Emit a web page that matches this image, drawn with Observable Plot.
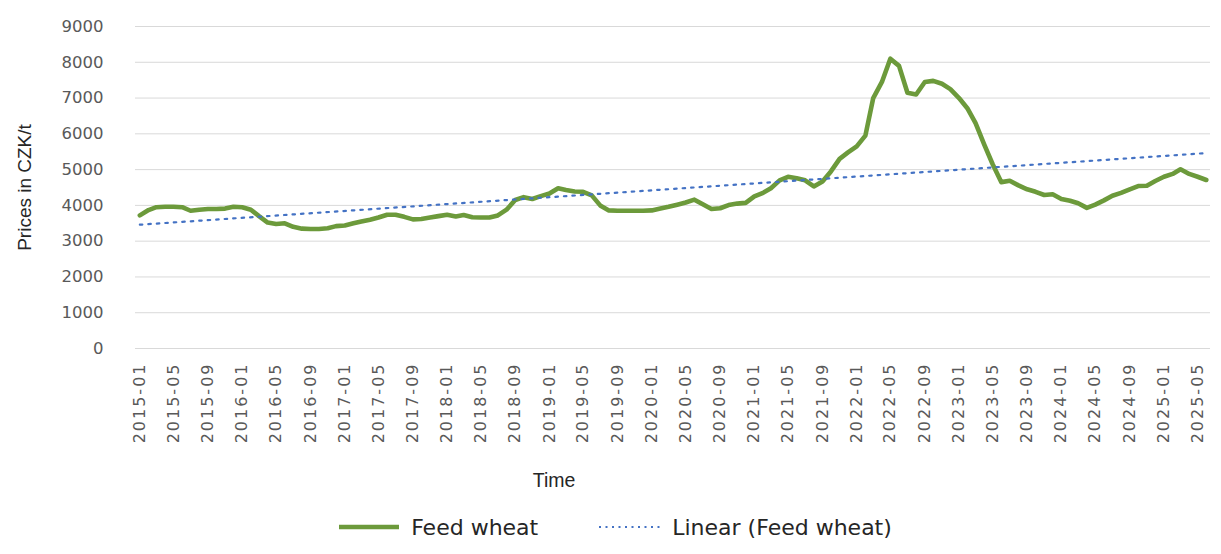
<!DOCTYPE html>
<html>
<head>
<meta charset="utf-8">
<script src="https://cdn.jsdelivr.net/npm/d3@7"></script>
<script src="https://cdn.jsdelivr.net/npm/@observablehq/plot@0.6"></script>
<style>
  html, body { margin: 0; padding: 0; background: #fff; }
  #chart { width: 1221px; }
  .legend {
    display: flex; justify-content: center; align-items: center;
    font-family: "DejaVu Sans", sans-serif; font-size: 22px; color: #262626;
    height: 54px; padding-left: 10px; box-sizing: border-box;
  }
  .legend .item { display: flex; align-items: center; margin: 0 30px; }
  .legend svg { margin-right: 12px; }
</style>
</head>
<body>
<div id="chart"></div>
<script>
// Monthly feed wheat prices (CZK/t), January 2015 – June 2025
const startMonth = new Date(Date.UTC(2015, 0, 1));
const endMonth = new Date(Date.UTC(2025, 6, 1));
const months = d3.utcMonth.range(startMonth, endMonth);

const feedWheat = [
  // 2015
  3720, 3870, 3950, 3960, 3960, 3950, 3850, 3880, 3900, 3900, 3910, 3960,
  // 2016
  3950, 3880, 3700, 3520, 3480, 3500, 3400, 3350, 3340, 3340, 3360, 3420,
  // 2017
  3440, 3500, 3550, 3600, 3660, 3740, 3740, 3680, 3610, 3620, 3660, 3700,
  // 2018
  3740, 3690, 3730, 3670, 3660, 3660, 3720, 3880, 4150, 4230, 4180, 4260,
  // 2019
  4330, 4480, 4430, 4390, 4380, 4280, 4000, 3860, 3850, 3850, 3850, 3850,
  // 2020
  3860, 3910, 3960, 4020, 4080, 4160, 4030, 3900, 3920, 4010, 4050, 4070,
  // 2021
  4250, 4350, 4480, 4700, 4800, 4760, 4700, 4530, 4670, 4950, 5300, 5480,
  // 2022
  5650, 5950, 7000, 7450, 8100, 7900, 7150, 7100, 7450, 7480, 7400, 7250,
  // 2023
  7000, 6700, 6300, 5700, 5150, 4650, 4690, 4560, 4450, 4380, 4290, 4310,
  // 2024
  4180, 4130, 4060, 3930, 4020, 4140, 4270, 4350, 4450, 4540, 4550, 4680,
  // 2025
  4800, 4880, 5010, 4880, 4800, 4710
];

const yTicks = [0, 1000, 2000, 3000, 4000, 5000, 6000, 7000, 8000, 9000];
const xTicks = d3.utcMonth.every(4).range(startMonth, endMonth);
const seriesName = "Feed wheat";
const trendName = "Linear (Feed wheat)";
const xTitle = "Time";
const yTitle = "Prices in CZK/t";

const data = months.map((date, i) => ({date, price: feedWheat[i]}));

const green = "#6c9a3b";
const blue = "#4472c4";

const chart = Plot.plot({
  width: 1221,
  height: 500,
  marginLeft: 135,
  marginRight: 11,
  marginTop: 26,
  marginBottom: 152,
  style: {fontFamily: "\"DejaVu Sans\", sans-serif", fontSize: "16px", color: "#595959", background: "#fff"},
  x: {
    type: "utc",
    domain: [new Date(Date.UTC(2014, 11, 16, 12)), new Date(Date.UTC(2025, 5, 16))]
  },
  y: {domain: [0, 9000]},
  marks: [
    Plot.gridY(yTicks, {stroke: "#d9d9d9", strokeOpacity: 1, strokeWidth: 1}),
    Plot.axisY(yTicks, {
      tickSize: 0, tickPadding: 32, tickFormat: d => String(d),
      fontSize: 16.5, fill: "#595959",
      label: yTitle, labelAnchor: "center", labelArrow: "none", labelOffset: 118
    }),
    Plot.axisX(xTicks, {
      tickSize: 0, tickPadding: 14, tickRotate: -90, tickFormat: d3.utcFormat("%Y-%m"),
      fontSize: 16, fill: "#595959", label: null
    }),
    // x-axis title, set left of the plot centre as in the chart area layout
    Plot.text([xTitle], {frameAnchor: "bottom", dx: -119, dy: 138, fontSize: 19.5, fill: "#262626",
      fontFamily: "\"Liberation Sans\", Arial, sans-serif"}),
    Plot.line(data, {x: "date", y: "price", stroke: green, strokeWidth: 4.6, strokeLinejoin: "round", strokeLinecap: "round"}),
    Plot.linearRegressionY(data, {x: "date", y: "price", ci: 0, stroke: blue, strokeWidth: 2.2, strokeDasharray: "2.5,6"})
  ]
});

// Axis title styling and wider tick label spacing
d3.select(chart).selectAll("[aria-label='y-axis label'] text")
  .style("font-size", "19px").style("fill", "#262626")
  .style("font-family", "\"Liberation Sans\", Arial, sans-serif");
d3.select(chart).selectAll("[aria-label='x-axis tick label'] text")
  .style("letter-spacing", "2px");

document.getElementById("chart").appendChild(chart);

// Legend below the plot
const legend = d3.select("#chart").append("div").attr("class", "legend");
const item1 = legend.append("div").attr("class", "item");
item1.append("svg").attr("width", 60).attr("height", 10)
  .append("line").attr("x1", 0).attr("x2", 60).attr("y1", 5).attr("y2", 5)
  .attr("stroke", green).attr("stroke-width", 4.6);
item1.append("span").text(seriesName);
const item2 = legend.append("div").attr("class", "item");
item2.append("svg").attr("width", 62).attr("height", 10)
  .append("line").attr("x1", 1).attr("x2", 62).attr("y1", 5).attr("y2", 5)
  .attr("stroke", blue).attr("stroke-width", 2).attr("stroke-dasharray", "2,4.5");
item2.append("span").text(trendName);
</script>
</body>
</html>
